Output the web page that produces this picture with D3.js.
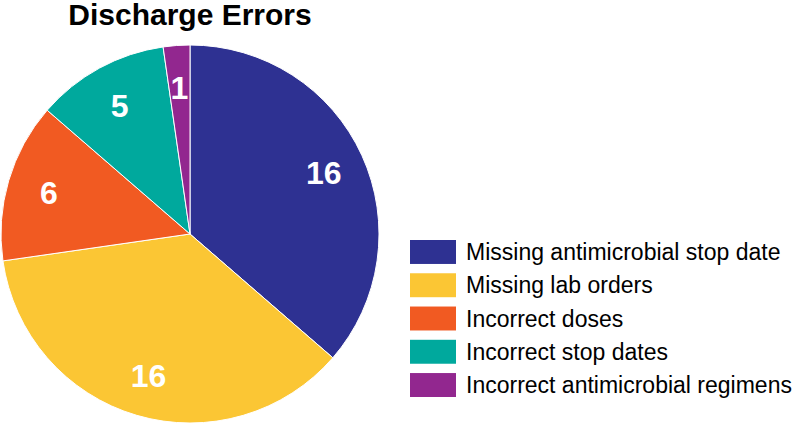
<!DOCTYPE html>
<html>
<head>
<meta charset="utf-8">
<script src="https://cdn.jsdelivr.net/npm/d3@7"></script>
<style>
  body { margin: 0; background: #fff; }
  svg { display: block; font-family: "Liberation Sans", Arial, sans-serif; }
</style>
</head>
<body>
<svg id="chart" width="792" height="424"></svg>
<script>
'use strict';

let categories = ["Missing antimicrobial stop date", "Missing lab orders", "Incorrect doses", "Incorrect stop dates", "Incorrect antimicrobial regimens"];
let counts = [16, 16, 6, 5, 1];
let colors = ["#2E3192", "#FBC634", "#F15A22", "#00A99D", "#92278F"];
let title = "Discharge Errors";

function getChartConfig() {
    let width = 792, height = 424;
    let radius = 189;
    let cx = 190, cy = 234;
    let svg = d3.select("#chart");
    return { width, height, radius, cx, cy, svg };
}

function getScales() {
    let color = d3.scaleOrdinal().domain(categories).range(colors);
    let legendY = d3.scaleBand().domain(categories).range([240, 397]).paddingInner(0.28).paddingOuter(0);
    return { color, legendY };
}

function drawPie(config, scales) {
    let { svg, radius, cx, cy } = config;
    let { color } = scales;

    let data = categories.map((c, i) => ({ category: c, value: counts[i] }));
    let pie = d3.pie().sort(null).value(d => d.value);
    let arc = d3.arc().innerRadius(0).outerRadius(radius);
    let labelArc = d3.arc().innerRadius(147).outerRadius(147);

    let g = svg.append("g").attr("transform", `translate(${cx},${cy})`);
    let arcs = pie(data);

    g.selectAll("path")
        .data(arcs)
        .enter()
        .append("path")
        .attr("d", arc)
        .attr("fill", d => color(d.data.category))
        .attr("stroke", "#fff")
        .attr("stroke-width", 1);

    g.selectAll("text")
        .data(arcs)
        .enter()
        .append("text")
        .attr("transform", d => "translate(" + labelArc.centroid(d) + ")")
        .attr("text-anchor", "middle")
        .attr("dy", "0.36em")
        .style("font-size", "32px")
        .style("font-weight", "bold")
        .style("fill", "#fff")
        .text(d => d.data.value);
}

function drawTitle(config) {
    let { svg, cx } = config;
    svg.append("text")
        .attr("x", cx)
        .attr("y", 25)
        .attr("text-anchor", "middle")
        .style("font-size", "30px")
        .style("font-weight", "bold")
        .style("fill", "#000")
        .text(title);
}

function drawLegend(config, scales) {
    let { svg } = config;
    let { color, legendY } = scales;

    let item = svg.selectAll(".legendItem")
        .data(categories)
        .enter()
        .append("g")
        .attr("class", "legendItem")
        .attr("transform", d => `translate(410,${legendY(d)})`);

    item.append("rect")
        .attr("width", 46)
        .attr("height", legendY.bandwidth())
        .attr("fill", d => color(d));

    item.append("text")
        .attr("x", 56)
        .attr("y", legendY.bandwidth() / 2)
        .attr("dy", "0.35em")
        .style("font-size", "23px")
        .style("fill", "#000")
        .text(d => d);
}

function drawChart() {
    let config = getChartConfig();
    let scales = getScales();
    drawPie(config, scales);
    drawTitle(config);
    drawLegend(config, scales);
}

drawChart();
</script>
</body>
</html>
